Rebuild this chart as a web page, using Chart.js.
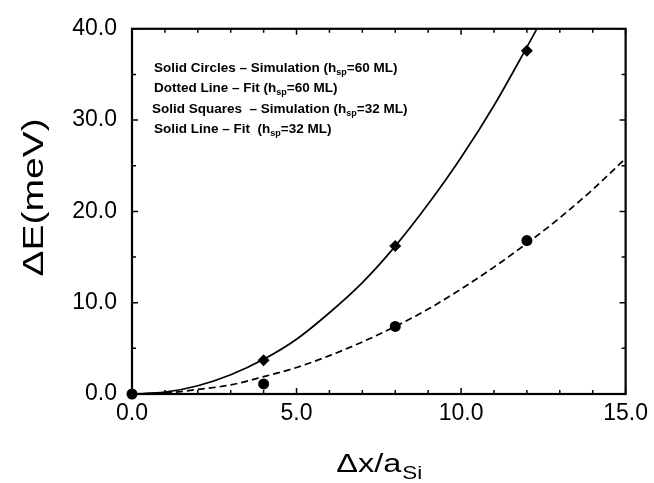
<!DOCTYPE html>
<html>
<head>
<meta charset="utf-8">
<script src="https://cdn.jsdelivr.net/npm/chart.js@4/dist/chart.umd.min.js"></script>
<style>
  html, body { margin: 0; padding: 0; background: #fff; }
</style>
</head>
<body>
<canvas id="shiftChart" width="654" height="483"></canvas>
<script>
// --- data ---
// simulation points (solid circles: h_sp = 60 ML, solid squares: h_sp = 32 ML)
const circleX = [0, 4, 8, 12];
const circleE = [0, 1.1, 7.4, 16.8];
const squareX = [4, 8, 12];
const squareE = [3.7, 16.2, 37.6];

// fit curves, sampled from the drawn lines
const fit60X = [0, 1, 2, 3, 4, 5, 6, 7, 8, 9, 10, 11, 12, 13, 14, 15];
const fit60E = [0, 0.1, 0.5, 1.0, 1.9, 2.9, 4.2, 5.7, 7.4, 9.3, 11.5, 13.9, 16.5, 19.3, 22.4, 25.8];
const fit32X = [0, 1, 2, 3, 4, 5, 6, 7, 8, 9, 10, 11, 12, 12.5];
const fit32E = [0, 0.2, 0.9, 2.1, 3.8, 6.0, 8.9, 12.2, 16.2, 20.8, 25.9, 31.6, 38.0, 41.3];

// labelled ticks
const xLabelTicks = [0, 5, 10, 15];
const yLabelTicks = [0, 10, 20, 30, 40];

// note lines in the upper left (text before subscript, subscript, text after)
const noteLines = [
    ['Solid Circles \u2013 Simulation (h', 'sp', '=60 ML)'],
    ['Dotted Line \u2013 Fit (h', 'sp', '=60 ML)'],
    ['Solid Squares  \u2013 Simulation (h', 'sp', '=32 ML)'],
    ['Solid Line \u2013 Fit  (h', 'sp', '=32 ML)']
];

const FONT = '"Liberation Sans", Arial, Helvetica, sans-serif';

function pts(xs, ys) {
    return xs.map((x, i) => ({ x: x, y: ys[i] }));
}

// draws text a bit stretched horizontally (the original figure uses wide lettering)
function wideText(ctx, text, x, y, sx) {
    ctx.save();
    ctx.translate(x, y);
    ctx.scale(sx, 1);
    ctx.fillText(text, 0, 0);
    ctx.restore();
    return ctx.measureText(text).width * sx;
}

// frame round the plot + inward tick marks
const framePlugin = {
    id: 'framePlugin',
    beforeDatasetsDraw(chart) {
        const { ctx, chartArea: a, scales } = chart;
        ctx.save();
        ctx.strokeStyle = '#000';
        ctx.lineWidth = 1.5;
        scales.x.ticks.forEach(t => {
            const px = scales.x.getPixelForValue(t.value);
            const len = xLabelTicks.includes(t.value) ? 6 : 4;
            ctx.beginPath();
            ctx.moveTo(px, a.bottom); ctx.lineTo(px, a.bottom - len);
            ctx.moveTo(px, a.top); ctx.lineTo(px, a.top + len);
            ctx.stroke();
        });
        scales.y.ticks.forEach(t => {
            const py = scales.y.getPixelForValue(t.value);
            const len = yLabelTicks.includes(t.value) ? 6 : 4;
            ctx.beginPath();
            ctx.moveTo(a.left, py); ctx.lineTo(a.left + len, py);
            ctx.moveTo(a.right, py); ctx.lineTo(a.right - len, py);
            ctx.stroke();
        });
        ctx.lineWidth = 2.2;
        ctx.strokeRect(a.left, a.top, a.right - a.left, a.bottom - a.top);
        ctx.restore();
    }
};

// axis titles (with subscript) and the note block
const textPlugin = {
    id: 'textPlugin',
    afterDraw(chart) {
        const { ctx, chartArea: a } = chart;
        ctx.save();
        ctx.fillStyle = '#000';

        // y title
        ctx.save();
        ctx.translate(35, (a.top + a.bottom) / 2 - 14);
        ctx.rotate(-Math.PI / 2);
        ctx.font = '30px ' + FONT;
        ctx.textAlign = 'center';
        ctx.textBaseline = 'middle';
        wideText(ctx, '\u0394E(meV)', 0, 0, 1.3);
        ctx.restore();

        // x title: Δx/a with subscript Si
        ctx.textAlign = 'left';
        ctx.textBaseline = 'alphabetic';
        ctx.font = '25px ' + FONT;
        const mainW = ctx.measureText('\u0394x/a').width * 1.3;
        ctx.font = '18px ' + FONT;
        const subW = ctx.measureText('Si').width * 1.25;
        let x0 = (a.left + a.right) / 2 - (mainW + subW) / 2;
        ctx.font = '25px ' + FONT;
        x0 += wideText(ctx, '\u0394x/a', x0, 472, 1.3);
        ctx.font = '18px ' + FONT;
        wideText(ctx, 'Si', x0 + 1, 479, 1.25);

        // notes
        noteLines.forEach((ln, i) => {
            let x = a.left + (i === 2 ? 20 : 22);
            const y = a.top + 43 + i * 20.5;
            ctx.font = 'bold 13.5px ' + FONT;
            ctx.fillText(ln[0], x, y);
            x += ctx.measureText(ln[0]).width;
            ctx.font = 'bold 9px ' + FONT;
            ctx.fillText(ln[1], x, y + 3);
            x += ctx.measureText(ln[1]).width;
            ctx.font = 'bold 13.5px ' + FONT;
            ctx.fillText(ln[2], x, y);
        });
        ctx.restore();
    }
};

new Chart(document.getElementById('shiftChart'), {
    type: 'scatter',
    data: {
        datasets: [
            {
                label: 'Simulation (h_sp=60 ML)',
                data: pts(circleX, circleE),
                pointStyle: 'circle',
                pointRadius: 5.5,
                backgroundColor: '#000',
                borderWidth: 0,
                clip: false
            },
            {
                label: 'Simulation (h_sp=32 ML)',
                data: pts(squareX, squareE),
                pointStyle: 'rectRot',
                pointRadius: 6,
                backgroundColor: '#000',
                borderWidth: 0,
                clip: false
            },
            {
                label: 'Fit (h_sp=60 ML)',
                data: pts(fit60X, fit60E),
                showLine: true,
                pointRadius: 0,
                borderColor: '#000',
                borderWidth: 1.7,
                borderDash: [7, 4],
                cubicInterpolationMode: 'monotone',
                clip: 0
            },
            {
                label: 'Fit (h_sp=32 ML)',
                data: pts(fit32X, fit32E),
                showLine: true,
                pointRadius: 0,
                borderColor: '#000',
                borderWidth: 1.7,
                cubicInterpolationMode: 'monotone',
                clip: 0
            }
        ]
    },
    options: {
        responsive: false,
        devicePixelRatio: 1,
        animation: false,
        layout: { padding: { left: 0, top: 13, right: 23, bottom: 0 } },
        plugins: {
            legend: { display: false },
            tooltip: { enabled: false }
        },
        scales: {
            x: {
                type: 'linear',
                min: 0,
                max: 15,
                grid: { display: false, drawTicks: false },
                border: { display: false },
                ticks: {
                    stepSize: 1,
                    autoSkip: false,
                    maxRotation: 0,
                    padding: 6,
                    color: '#000',
                    font: { family: FONT, size: 23 },
                    callback: v => xLabelTicks.includes(v) ? v.toFixed(1) : ''
                },
                afterFit: s => { s.height = 89; }
            },
            y: {
                type: 'linear',
                min: 0,
                max: 40,
                grid: { display: false, drawTicks: false },
                border: { display: false },
                ticks: {
                    stepSize: 5,
                    autoSkip: false,
                    padding: 15,
                    color: '#000',
                    font: { family: FONT, size: 23 },
                    callback: v => yLabelTicks.includes(v) ? v.toFixed(1) : ''
                },
                afterFit: s => { s.width = 132; }
            }
        }
    },
    plugins: [framePlugin, textPlugin]
});
</script>
</body>
</html>
